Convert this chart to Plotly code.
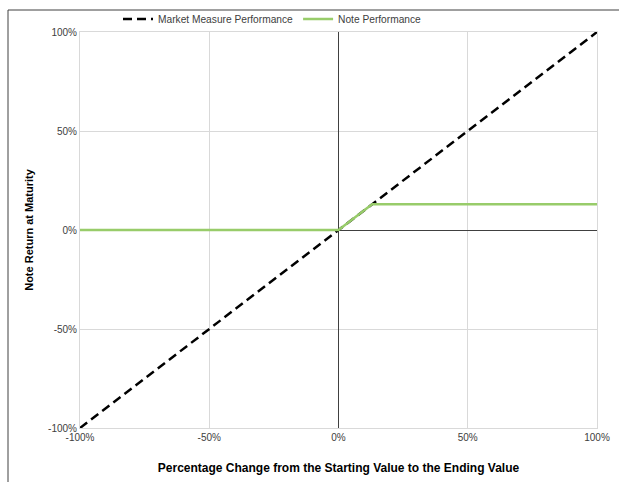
import plotly.graph_objects as go

# Data (percent)
market_x = [-100, 100]
market_y = [-100, 100]
note_x = [-100, 0, 13, 100]
note_y = [0, 0, 13, 13]
tick_vals = [-100, -50, 0, 50, 100]
tick_text = ["-100%", "-50%", "0%", "50%", "100%"]

W, H = 619, 482
L, R, T, B = 80, 22, 32, 54
pw, ph = W - L - R, H - T - B

def px_x(p):
    return (p - L) / pw

def px_y(p):
    return (H - B - p) / ph

fig = go.Figure()
fig.add_trace(go.Scatter(x=market_x, y=market_y, mode="lines", name="Market Measure Performance",
                         line=dict(color="black", width=2.5, dash="9px,5px")))
fig.add_trace(go.Scatter(x=note_x, y=note_y, mode="lines", name="Note Performance",
                         line=dict(color="#98CC6A", width=2.5)))

FAM = "Liberation Sans, Arial, sans-serif"
font = dict(family=FAM, size=10, color="#404040")
fig.update_layout(
    width=W, height=H,
    margin=dict(l=L, r=R, t=T, b=B, autoexpand=False),
    paper_bgcolor="white", plot_bgcolor="white",
    font=font,
    showlegend=True,
    legend=dict(orientation="h", x=px_x(118), xanchor="left", y=px_y(19), yanchor="middle",
                font=dict(family=FAM, size=10.2, color="#404040"),
                bgcolor="rgba(0,0,0,0)", tracegroupgap=0),
    xaxis=dict(range=[-100, 100], tickvals=tick_vals, ticktext=tick_text,
               showgrid=True, gridcolor="#D9D9D9", gridwidth=1,
               zeroline=True, zerolinecolor="#404040", zerolinewidth=1,
               showline=True, linecolor="#D9D9D9", mirror=True,
               ticks="", tickfont=font,
               title=dict(text="<b>Percentage Change from the Starting Value to the Ending Value</b>",
                          font=dict(family=FAM, size=12, color="black"),
                          standoff=21)),
    yaxis=dict(range=[-100, 100], tickvals=tick_vals, ticktext=tick_text,
               showgrid=True, gridcolor="#D9D9D9", gridwidth=1,
               zeroline=True, zerolinecolor="#404040", zerolinewidth=1,
               showline=True, linecolor="#D9D9D9", mirror=True,
               ticks="", tickfont=font,
               title=dict(text="<b>Note Return at Maturity</b>",
                          font=dict(family=FAM, size=11, color="black"),
                          standoff=12)),
)

# outer frame (top and left)
fig.add_shape(type="line", xref="paper", yref="paper", x0=px_x(8), x1=px_x(W + 5),
              y0=px_y(10), y1=px_y(10), line=dict(color="#404040", width=1))
fig.add_shape(type="line", xref="paper", yref="paper", x0=px_x(8), x1=px_x(8),
              y0=px_y(10), y1=px_y(H + 5), line=dict(color="#404040", width=1))

fig.write_html("out.html", config={"displayModeBar": False},
               post_script="document.body.style.margin='0';")
